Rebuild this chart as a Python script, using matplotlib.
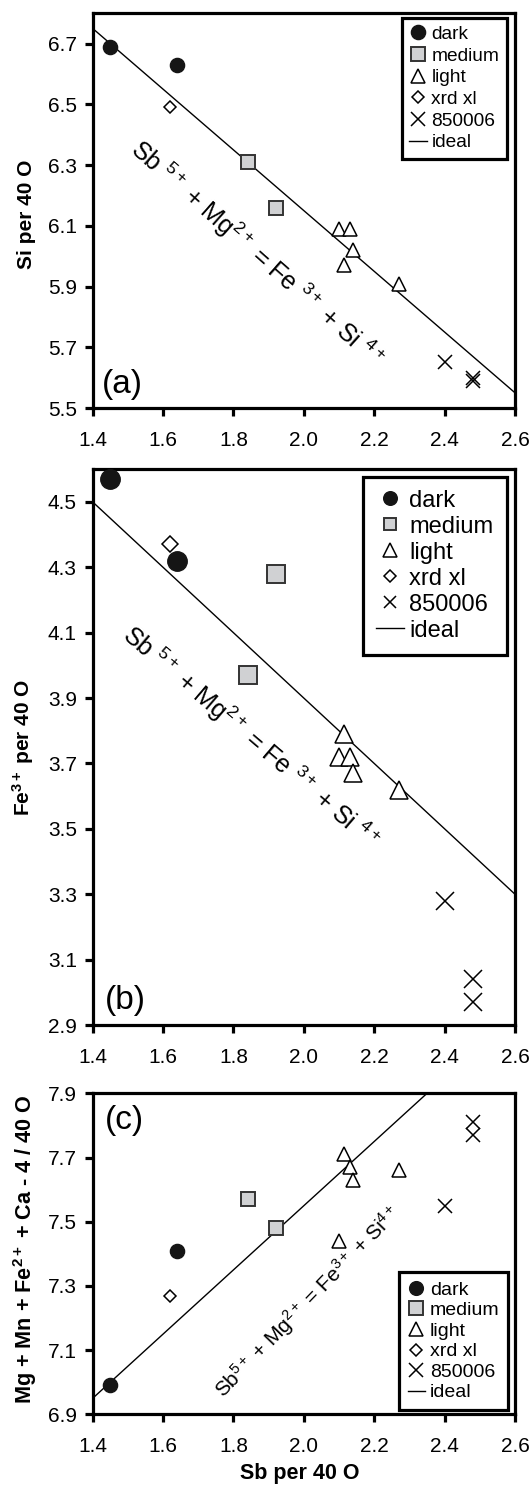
import matplotlib
matplotlib.use('Agg')
import matplotlib.pyplot as plt
import numpy as np

plt.rcParams['font.family'] = ['Liberation Sans', 'DejaVu Sans']
plt.rcParams['mathtext.fontset'] = 'custom'
plt.rcParams['mathtext.rm'] = 'Liberation Sans'
plt.rcParams['mathtext.it'] = 'Liberation Sans:italic'
plt.rcParams['mathtext.bf'] = 'Liberation Sans:bold'
plt.rcParams['mathtext.default'] = 'regular'

# ---------------- data ----------------
dark_sb = [1.45, 1.64]
medium_sb = [1.84, 1.92]
light_sb = [2.10, 2.115, 2.13, 2.14, 2.27]
xrd_sb = [1.62]
s850006_sb = [2.40, 2.48, 2.48]

# (a) Si per 40 O
dark_si = [6.69, 6.63]
medium_si = [6.31, 6.16]
light_si = [6.09, 5.97, 6.09, 6.02, 5.91]
xrd_si = [6.49]
s850006_si = [5.65, 5.60, 5.59]

# (b) Fe3+ per 40 O
dark_fe = [4.57, 4.32]
medium_fe = [3.97, 4.28]
light_fe = [3.72, 3.79, 3.72, 3.67, 3.62]
xrd_fe = [4.37]
s850006_fe = [3.28, 3.04, 2.97]

# (c) Mg + Mn + Fe2+ + Ca - 4 per 40 O
dark_c = [6.99, 7.41]
medium_c = [7.57, 7.48]
light_c = [7.44, 7.71, 7.67, 7.63, 7.66]
xrd_c = [7.27]
s850006_c = [7.55, 7.81, 7.77]

# ideal substitution lines: y = intercept + slope * Sb
ideal_sb = np.array([1.4, 2.6])
ideal_a = (8.15, -1.0)
ideal_b = (5.90, -1.0)
ideal_c = (5.55, 1.0)

labels = ['dark', 'medium', 'light', 'xrd xl', '850006', 'ideal']
xticks = [1.4, 1.6, 1.8, 2.0, 2.2, 2.4, 2.6]
xticklabels = ['1.4', '1.6', '1.8', '2.0', '2.2', '2.4', '2.6']

fig = plt.figure(figsize=(5.32, 14.85), dpi=100)
ax_a = fig.add_axes([0.1743, 0.72525, 0.7938, 0.26579])
ax_b = fig.add_axes([0.1743, 0.30976, 0.7938, 0.37421])
ax_c = fig.add_axes([0.1743, 0.04761, 0.7938, 0.21616])

SQ_FILL = '#d0d1d3'


def draw_panel(ax, ys, ideal, ylim, yticks, ms, legend_kw):
    d, m, l, x, s = ys
    b0, b1 = ideal
    hi, = ax.plot(ideal_sb, b0 + b1 * ideal_sb, color='black', lw=1.0,
                  zorder=2, label='ideal')
    hd, = ax.plot(dark_sb, d, 'o', ms=ms['o'], mfc='#151515', mec='#151515',
                  mew=1, zorder=3, label='dark')
    hm, = ax.plot(medium_sb, m, 's', ms=ms['s'], mfc=SQ_FILL, mec='#333333',
                  mew=1.4, zorder=3, label='medium')
    hl, = ax.plot(light_sb, l, '^', ms=ms['^'], mfc='white', mec='black',
                  mew=1.1, zorder=3, label='light')
    hx, = ax.plot(xrd_sb, x, 'D', ms=ms['D'], mfc='white', mec='black',
                  mew=1.1, zorder=3, label='xrd xl')
    hs, = ax.plot(s850006_sb, s, 'x', ms=ms['x'], color='black',
                  mew=1.1, zorder=3, label='850006')
    ax.set_xlim(1.4, 2.6)
    ax.set_ylim(*ylim)
    ax.set_xticks(xticks)
    ax.set_xticklabels(xticklabels)
    ax.set_yticks(yticks)
    ax.set_yticklabels(['%.1f' % v for v in yticks])
    for sp in ax.spines.values():
        sp.set_linewidth(2.3)
    ax.tick_params(axis='both', direction='out', length=5.5, width=2.3,
                   labelsize=15, top=False, right=False)
    ax.tick_params(axis='y', pad=6)
    ax.tick_params(axis='x', pad=11)
    leg = ax.legend([hd, hm, hl, hx, hs, hi], labels, frameon=True,
                    fancybox=False, framealpha=1, edgecolor='black',
                    borderaxespad=0, handletextpad=0.25, **legend_kw)
    leg.get_frame().set_linewidth(2.3)
    return leg


draw_panel(ax_a, (dark_si, medium_si, light_si, xrd_si, s850006_si),
           ideal_a, (5.5, 6.8), [5.5, 5.7, 5.9, 6.1, 6.3, 6.5, 6.7],
           {'o': 10.2, 's': 10, '^': 10.5, 'D': 6.5, 'x': 9.5},
           dict(loc='upper right', bbox_to_anchor=(0.981, 0.988),
                fontsize=13.8, handlelength=0.9, borderpad=0.4,
                labelspacing=0.22, markerscale=1.0))
draw_panel(ax_b, (dark_fe, medium_fe, light_fe, xrd_fe, s850006_fe),
           ideal_b, (2.9, 4.6), [2.9, 3.1, 3.3, 3.5, 3.7, 3.9, 4.1, 4.3, 4.5],
           {'o': 14, 's': 13, '^': 13.5, 'D': 8.5, 'x': 13},
           dict(loc='upper right', bbox_to_anchor=(0.980, 0.987),
                fontsize=17, handlelength=1.15, borderpad=0.55,
                labelspacing=0.17, markerscale=0.7))
draw_panel(ax_c, (dark_c, medium_c, light_c, xrd_c, s850006_c),
           ideal_c, (6.9, 7.9), [6.9, 7.1, 7.3, 7.5, 7.7, 7.9],
           {'o': 10.2, 's': 10.5, '^': 10.5, 'D': 6.5, 'x': 10.5},
           dict(loc='lower right', bbox_to_anchor=(0.984, 0.013),
                fontsize=14, handlelength=0.9, borderpad=0.45,
                labelspacing=0.15, markerscale=0.97))

# axis labels
ax_a.set_ylabel('Si per 40 O', fontsize=15, fontweight='bold', va='center')
ax_a.yaxis.set_label_coords(-0.158, 0.49)
ax_b.set_ylabel(r'Fe$^{3+}$ per 40 O', fontsize=15, fontweight='bold',
                va='center')
ax_b.yaxis.set_label_coords(-0.165, 0.5)
ax_c.set_ylabel(r'Mg + Mn + Fe$^{2+}$ + Ca - 4 / 40 O', fontsize=15.6,
                fontweight='bold', va='center')
ax_c.yaxis.set_label_coords(-0.160, 0.515)
ax_c.set_xlabel('Sb per 40 O', fontsize=15.5, fontweight='bold')
ax_c.xaxis.set_label_coords(0.49, -0.152)

# panel letters
ax_a.text(0.022, 0.02, '(a)', transform=ax_a.transAxes, fontsize=24,
          ha='left', va='bottom')
ax_b.text(0.029, 0.016, '(b)', transform=ax_b.transAxes, fontsize=24,
          ha='left', va='bottom')
ax_c.text(0.029, 0.965, '(c)', transform=ax_c.transAxes, fontsize=24,
          ha='left', va='top')

# substitution annotations
eq_spaced = r'Sb $^{5+}$ + Mg$^{2+}$ = Fe $^{3+}$ + Si $^{4+}$'
eq_tight = r'Sb$^{5+}$ + Mg$^{2+}$ = Fe$^{3+}$ + Si$^{4+}$'
ax_a.text(1.866, 6.008, eq_spaced, fontsize=18, rotation=-41.5,
          ha='center', va='center', rotation_mode='anchor')
ax_b.text(1.85, 3.78, eq_spaced, fontsize=18, rotation=-40.5,
          ha='center', va='center', rotation_mode='anchor')
ax_c.text(2.01, 7.25, eq_tight, fontsize=15, rotation=46,
          ha='center', va='center', rotation_mode='anchor')

fig.savefig('out.png', dpi=100)
